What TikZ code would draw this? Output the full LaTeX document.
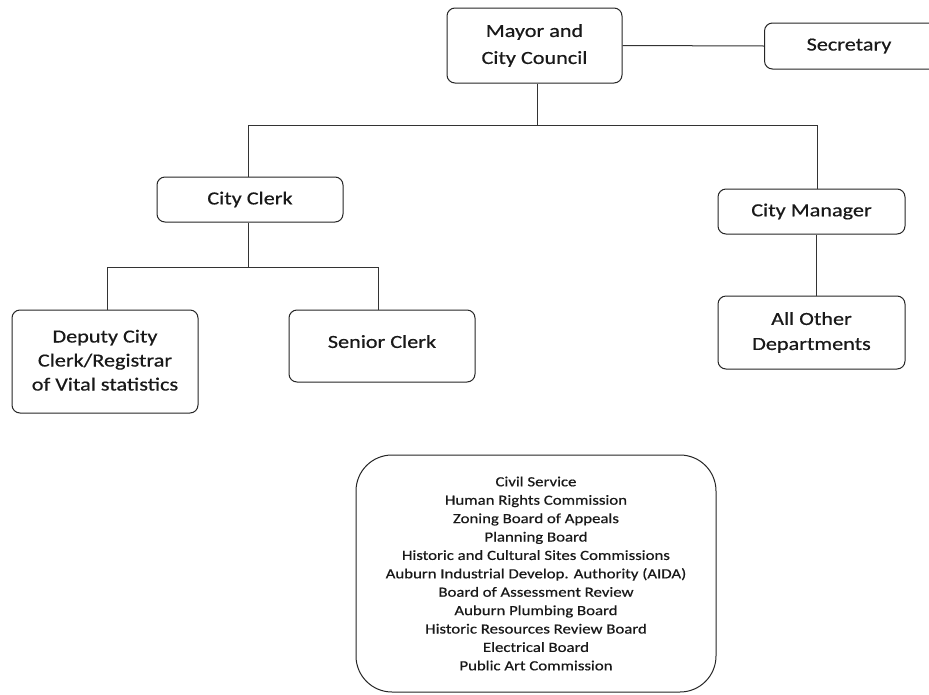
\documentclass[tikz,border=0pt]{standalone}
\usepackage{fontspec}
\setmainfont{Carlito}[FakeStretch=1.2,FakeBold=0.5]
\begin{document}
\begin{tikzpicture}[x=1pt,y=-1pt,
  box/.style={draw=black!85, line width=1pt, rounded corners=8pt, align=center, inner sep=0pt, font=\fontsize{18.5}{27}\selectfont, text=black!90},
  conn/.style={draw=black!80, line width=1pt}]
\useasboundingbox (0,0) rectangle (929,694);
\fill[white] (0,0) rectangle (929,694);
\node[box, minimum width=175pt, minimum height=75pt] (mayor) at (534.5,45.5) {Mayor and\\City Council};
\node[box, minimum width=175pt, minimum height=46pt] (sec) at (852,46) {\hspace*{-6pt}Secretary};
\node[box, minimum width=186pt, minimum height=45pt] (clerk) at (250,199.5) {City Clerk};
\node[box, minimum width=187pt, minimum height=45pt] (mgr) at (811.5,211.5) {City Manager};
\node[box, minimum width=186pt, minimum height=103pt, font=\fontsize{18.5}{25}\selectfont] (deputy) at (105,361.5) {\raisebox{5pt}{\begin{tabular}{@{}c@{}}Deputy City\\[-1pt]Clerk/Registrar\\[-1pt]of Vital statistics\end{tabular}}};
\node[box, minimum width=186pt, minimum height=72pt] (senior) at (382,346) {\raisebox{9pt}{Senior Clerk}};
\node[box, minimum width=187pt, minimum height=73pt, font=\fontsize{18.5}{25}\selectfont] (other) at (811.5,332.5) {All Other\\Departments};
\node[box, rounded corners=36pt, minimum width=360pt, minimum height=237pt, font=\fontsize{14}{18.4}\selectfont] (boards) at (536,573.5) {Civil Service\\Human Rights Commission\\Zoning Board of Appeals\\Planning Board\\Historic and Cultural Sites Commissions\\Auburn Industrial Develop. Authority (AIDA)\\Board of Assessment Review\\Auburn Plumbing Board\\Historic Resources Review Board\\Electrical Board\\Public Art Commission};
\coordinate (j1) at (537,125);
\coordinate (j2) at (248,267);
\draw[conn] (mayor.east) -- (sec.west);
\draw[conn] (mayor.south -| j1) -- (j1);
\draw[conn] (248,125) -| (clerk.north -| 248,0);
\draw[conn] (248,125) -- (817,125) -- (817,189);
\draw[conn] (clerk.south -| j2) -- (j2);
\draw[conn] (107,267) -- (378,267);
\draw[conn] (107,267) -- (deputy.north -| 107,0);
\draw[conn] (378,267) -- (senior.north -| 378,0);
\draw[conn] (mgr.south -| 816,0) -- (other.north -| 816,0);
\end{tikzpicture}
\end{document}
